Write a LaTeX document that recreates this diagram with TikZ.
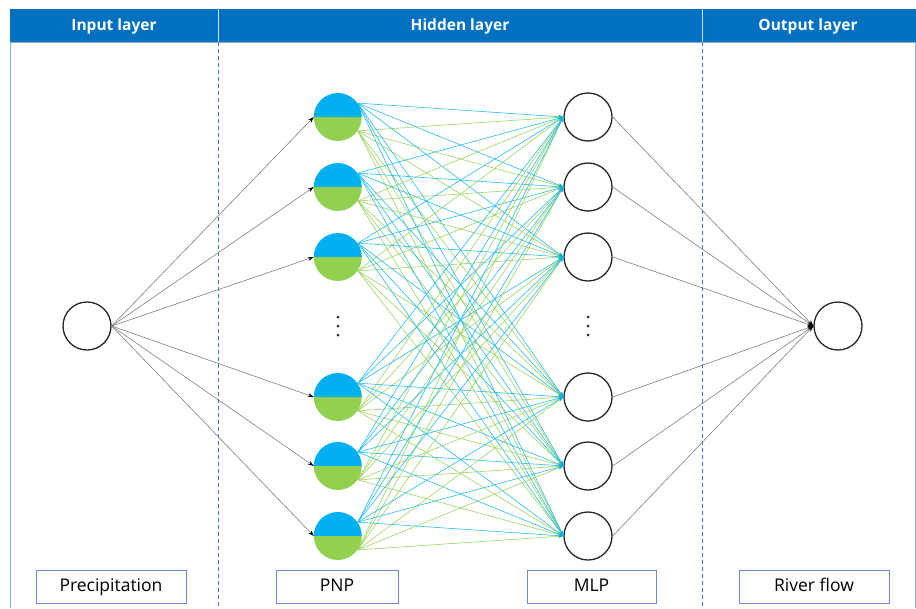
\documentclass[tikz,border=0pt]{standalone}
\usepackage{fontspec}
\setmainfont{Open Sans}
\usetikzlibrary{arrows.meta}
\definecolor{hdr}{HTML}{0070C0}
\definecolor{frame}{HTML}{8FAADC}
\definecolor{divider}{HTML}{4472C4}
\definecolor{pnpblue}{HTML}{00B0F0}
\definecolor{pnpgreen}{HTML}{92D050}
\definecolor{edgegray}{HTML}{7F7F7F}
\tikzset{
  x=1pt, y=-1pt,
  neuron/.style={circle, draw=black!85, line width=1.3pt, minimum size=48pt, inner sep=0pt, fill=white},
  pnpnode/.style={circle, minimum size=48pt, inner sep=0pt},
  hdrtext/.style={text=white, font=\fontsize{15.5}{18}\selectfont\bfseries, text height=11pt, text depth=3pt},
  labelbox/.style={draw=divider!80, line width=0.8pt, fill=white, minimum height=33pt, inner sep=0pt, text height=13pt, text depth=4pt, font=\fontsize{17.5}{20}\selectfont},
  inedge/.style={draw=edgegray, line width=0.6pt, -{Stealth[length=6pt,width=4pt,black]}},
  outedge/.style={draw=edgegray, line width=0.6pt, -{Stealth[length=6pt,width=4pt,black]}},
  blueedge/.style={draw=pnpblue!85, line width=0.6pt, -{Stealth[length=5pt,width=4pt,pnpblue]}},
  greenedge/.style={draw=pnpgreen!90, line width=0.6pt, -{Stealth[length=5pt,width=4pt,pnpgreen]}},
  dotmark/.style={fill=black!85}
}
\begin{document}
\begin{tikzpicture}
\useasboundingbox (0,0) rectangle (916,608);
% frame and header band
\draw[frame, line width=1pt] (10.5,42) -- (10.5,608);
\draw[frame, line width=1pt] (915,42) -- (915,608);
\fill[hdr] (10,9) rectangle (915.5,42);
\draw[frame, line width=1pt] (10,42) -- (915.5,42);
\draw[white!80!hdr, line width=0.6pt] (218,9) -- (218,42);
\draw[white!80!hdr, line width=0.6pt] (702,9) -- (702,42);
\node[hdrtext] (hin) at (114,26) {Input layer};
\node[hdrtext] (hhid) at (460,26) {Hidden layer};
\node[hdrtext] (hout) at (808,26) {Output layer};
% column dividers
\draw[divider, dash pattern=on 4pt off 3pt, line width=0.8pt] (218,42) -- (218,608);
\draw[divider, dash pattern=on 4pt off 3pt, line width=0.8pt] (702,42) -- (702,608);

% input and output neurons
\node[neuron] (in) at (87,326) {};
\node[neuron] (out) at (838,326) {};

% PNP neurons (half blue, half green) and MLP neurons
\foreach \i/\y in {1/117,2/187,3/257,4/397,5/466,6/536}{
  \node[pnpnode] (p\i) at (338,\y) {};
  \fill[pnpblue] (p\i.west) arc[start angle=180, end angle=0, radius=24pt] -- cycle;
  \fill[pnpgreen] (p\i.west) arc[start angle=180, end angle=360, radius=24pt] -- cycle;
  \node[neuron] (m\i) at (588,\y) {};
}
% vertical ellipses between the neuron groups
\foreach \x in {338,588}{
  \foreach \dy in {-9,0,9}{
    \fill[dotmark] (\x,326+\dy) circle[radius=1.5pt];
  }
}

% input -> PNP
\foreach \i in {1,...,6}{
  \draw[inedge] (in.east) -- (p\i.west);
}
% PNP -> MLP, fully connected
\foreach \i in {1,...,6}{
  \foreach \j in {1,...,6}{
    \draw[greenedge] (p\i.-35) -- (m\j.west);
    \draw[blueedge] (p\i.35) -- (m\j.west);
  }
}
% MLP -> output
\foreach \j in {1,...,6}{
  \draw[outedge] (m\j.east) -- (out.west);
}

% bottom labels
\node[labelbox, minimum width=150pt] (lin) at (111,587) {Precipitation};
\node[labelbox, minimum width=122pt] (lpnp) at (337,587) {PNP};
\node[labelbox, minimum width=129pt] (lmlp) at (591.5,587) {MLP};
\node[labelbox, minimum width=150pt] (lout) at (814,587) {River flow};
\end{tikzpicture}
\end{document}
